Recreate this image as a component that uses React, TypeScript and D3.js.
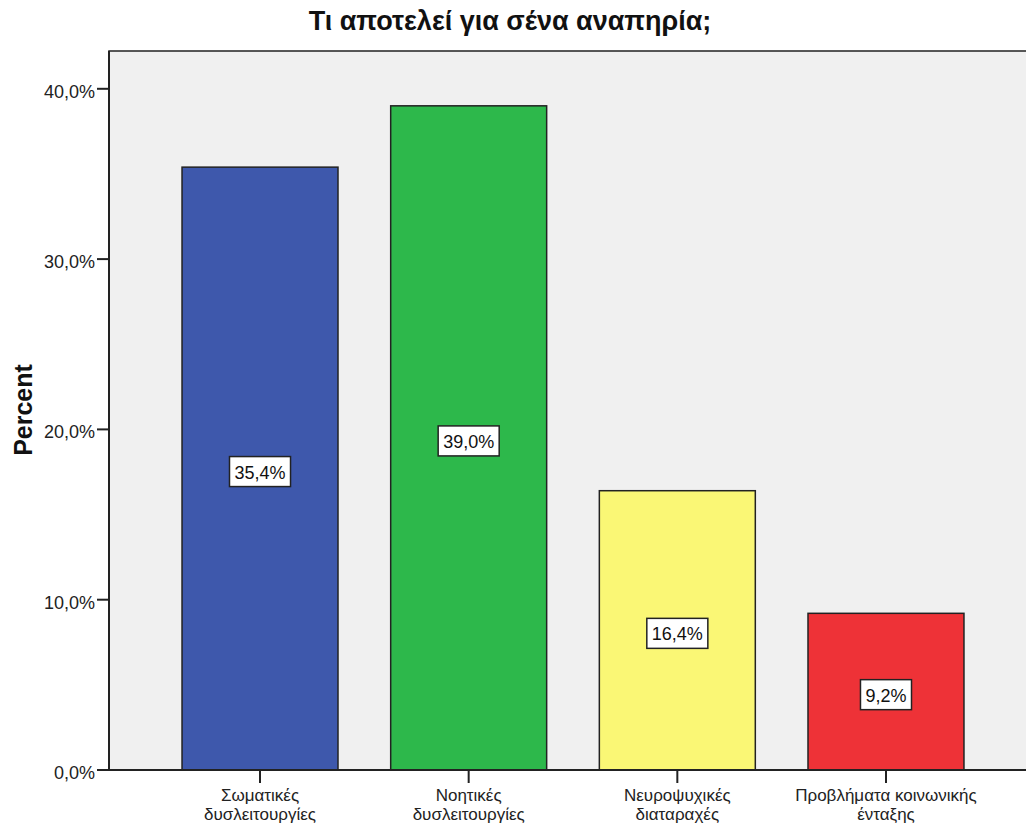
import React from "react";
import * as d3 from "d3";

const categories = ["Σωματικές δυσλειτουργίες", "Νοητικές δυσλειτουργίες", "Νευροψυχικές διαταραχές", "Προβλήματα κοινωνικής ένταξης"];
const categoryLines = [["Σωματικές", "δυσλειτουργίες"], ["Νοητικές", "δυσλειτουργίες"], ["Νευροψυχικές", "διαταραχές"], ["Προβλήματα κοινωνικής", "ένταξης"]];
const values = [35.4, 39.0, 16.4, 9.2];
const colors = ["#3E58AC", "#2DB84B", "#FAF775", "#EE3237"];
const yTicks = [0, 10, 20, 30, 40];
const title = "Τι αποτελεί για σένα αναπηρία;";

const W = 1026, H = 825;
const left = 109, right = 1037, top = 51, bottom = 770;
const font = "'Liberation Sans', Arial, sans-serif";

const charW: Record<string, number> = { ",": 0.278, "%": 0.889 };
const textWidth = (s: string, size: number) =>
  s.split("").reduce((a, c) => a + (charW[c] ?? 0.556), 0) * size;

export default function App() {
  const x = d3.scaleBand<string>().domain(categories).range([left, right]).paddingInner(0.2525).paddingOuter(0.35);
  const y = d3.scaleLinear().domain([0, 40]).range([bottom, bottom - 40 * 17.03]);
  const fmt = (v: number) => v.toFixed(1).replace(".", ",") + "%";
  return (
    <svg width={W} height={H} style={{ position: "absolute", left: 0, top: 0, background: "#fff" }} fontFamily={font}>
      <rect x={left} y={top} width={right - left} height={bottom - top} fill="#F0F0F0" stroke="#222" strokeWidth={1.5} />
      <text x={510} y={30} textAnchor="middle" fontSize={27} fontWeight="bold" fill="#111">{title}</text>
      {values.map((v, i) => (
        <rect key={i} x={x(categories[i])} y={y(v)} width={x.bandwidth()} height={bottom - y(v)} fill={colors[i]} stroke="#222" strokeWidth={1.5} />
      ))}
      {values.map((v, i) => {
        const cx = x(categories[i])! + x.bandwidth() / 2;
        const cy = y(v / 2) + 3;
        const t = fmt(v);
        const w = textWidth(t, 18) + 10;
        return (
          <g key={"l" + i}>
            <rect x={cx - w / 2} y={cy - 15} width={w} height={30} fill="#fff" stroke="#222" strokeWidth={1.5} />
            <text x={cx} y={cy + 7} textAnchor="middle" fontSize={18} fill="#111">{t}</text>
          </g>
        );
      })}
      <line x1={left} x2={left} y1={top} y2={bottom} stroke="#222" strokeWidth={2} />
      <line x1={left} x2={W} y1={bottom} y2={bottom} stroke="#222" strokeWidth={2} />
      {yTicks.map((t) => (
        <g key={t}>
          <line x1={left - 12} x2={left} y1={y(t)} y2={y(t)} stroke="#222" strokeWidth={2} />
          <text x={left - 14} y={y(t) + 9} textAnchor="end" fontSize={18} fill="#222">{fmt(t)}</text>
        </g>
      ))}
      {categories.map((c, i) => {
        const cx = x(c)! + x.bandwidth() / 2;
        return (
          <g key={c}>
            <line x1={cx} x2={cx} y1={bottom} y2={bottom + 13} stroke="#222" strokeWidth={2} />
            {categoryLines[i].map((ln, j) => (
              <text key={j} x={cx} y={801 + j * 19} textAnchor="middle" fontSize={17} fill="#222">{ln}</text>
            ))}
          </g>
        );
      })}
      <text transform={`translate(32,410) rotate(-90)`} textAnchor="middle" fontSize={25} fontWeight="bold" fill="#111">Percent</text>
    </svg>
  );
}
